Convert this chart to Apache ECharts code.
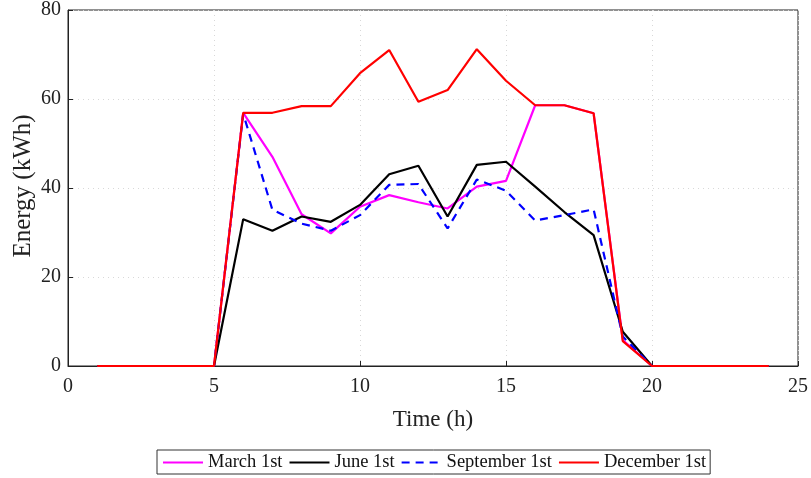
<!DOCTYPE html>
<html><head><meta charset="utf-8">
<script src="https://cdn.jsdelivr.net/npm/echarts@6/dist/echarts.min.js"></script>
<style>html,body{margin:0;padding:0;background:#fff}#c{width:811px;height:478px}</style>
</head><body><div id="c"></div>
<script>
const hours = [1,2,3,4,5,6,7,8,9,10,11,12,13,14,15,16,17,18,19,20,21,22,23,24];
const march = [0,0,0,0,0,56.9,47.0,34.1,29.8,35.8,38.4,36.8,35.4,40.3,41.6,58.6,58.6,56.8,5.8,0,0,0,0,0];
const june = [0,0,0,0,0,33.0,30.4,33.6,32.4,36.2,43.1,45.0,33.6,45.2,45.9,40.3,34.6,29.4,7.7,0,0,0,0,0];
const september = [0,0,0,0,0,56.7,35.1,32.0,30.4,33.9,40.7,40.9,30.9,41.9,39.4,32.7,33.9,35.2,6.6,0,0,0,0,0];
const december = [0,0,0,0,0,56.9,56.9,58.4,58.4,65.8,71.0,59.4,62.0,71.2,64.1,58.6,58.6,56.8,5.6,0,0,0,0,0];
const names = ['March 1st','June 1st','September 1st','December 1st'];
const yTitle = 'Energy (kWh)';
const colors = ['#FF00FF','#000000','#0000FF','#FF0000'];
const types = ['solid','solid','dashed','solid'];
const pair = a => hours.map((h,i)=>[h,a[i]]);
const all = [march, june, september, december];
const font = 'Liberation Serif';
const chart = echarts.init(document.getElementById('c'));
chart.setOption({
  animation:false,
  textStyle:{fontFamily:font},
  grid:{left:68,right:13,top:10,bottom:112,show:true,borderColor:'#222',borderWidth:1,containLabel:false,outerBoundsMode:'none'},
  graphic:[{type:'text',x:23,y:186,rotation:Math.PI/2,
    style:{text:yTitle,fill:'#222',font:'25px "Liberation Serif"',align:'center',verticalAlign:'middle'}}],
  xAxis:{type:'value',min:0,max:25,interval:5,name:'Time (h)',nameLocation:'middle',nameGap:42,nameMoveOverlap:false,
    nameTextStyle:{fontFamily:font,fontSize:23,color:'#222'},
    axisLine:{show:true,lineStyle:{color:'#222'}},axisTick:{show:true,inside:true,length:5,lineStyle:{color:'#222'}},
    axisLabel:{fontFamily:font,fontSize:20,color:'#222',margin:11},
    splitLine:{show:true,lineStyle:{color:'#d8d8d8',type:[1,4]}}},
  yAxis:{type:'value',min:0,max:80,interval:20,
    axisLine:{show:true,lineStyle:{color:'#222'}},axisTick:{show:true,inside:true,length:5,lineStyle:{color:'#222'}},
    axisLabel:{fontFamily:font,fontSize:20,color:'#222',margin:7},
    splitLine:{show:true,lineStyle:{color:'#d8d8d8',type:[1,4]}}},
  legend:{bottom:4,left:157,itemWidth:40,itemHeight:10,itemGap:6,padding:[3,4,2,5],
    borderColor:'#333',borderWidth:1,backgroundColor:'#fff',
    itemStyle:{opacity:0},
    textStyle:{fontFamily:font,fontSize:18.5,color:'#111'},data:names},
  series: all.map((a,i)=>({name:names[i],type:'line',data:pair(a),symbol:'none',
    lineStyle:{color:colors[i],width:2.2,type:types[i]==='dashed'?[8,6]:'solid'},itemStyle:{color:colors[i]}}))
});
</script></body></html>
